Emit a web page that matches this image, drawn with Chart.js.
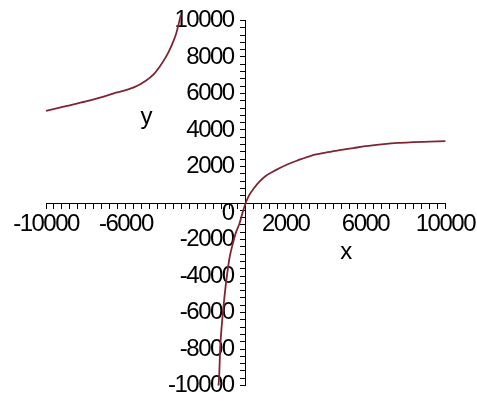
<!DOCTYPE html>
<html>
<head>
<meta charset="utf-8">
<script src="https://cdn.jsdelivr.net/npm/chart.js@4/dist/chart.umd.min.js"></script>
<style>
  html, body { margin: 0; padding: 0; background: #ffffff; }
  #wrap { width: 477px; height: 406px; }
</style>
</head>
<body>
<div id="wrap"><canvas id="c" width="477" height="406"></canvas></div>
<script>
// ---- data ----
const leftBranchX = [-10000, -9000, -8000, -7300, -6500, -5600, -5000, -4600, -4300, -4000, -3700, -3480, -3250];
const leftBranchY = [5040, 5300, 5560, 5770, 6040, 6330, 6700, 7060, 7480, 7990, 8650, 9280, 10300];

const rightBranchX = [-1360, -1320, -1280, -1220, -1150, -1050, -930, -800, -650, -500, -320, -150, 0, 150, 400, 700, 1000, 1500, 2000, 2600, 3300, 4000, 4700, 5400, 6000, 6800, 7600, 8400, 9200, 10000];
const rightBranchY = [-10000, -9300, -8000, -7000, -6100, -5000, -3900, -2950, -2250, -1650, -1150, -500, 0, 380, 790, 1180, 1480, 1800, 2070, 2330, 2600, 2760, 2890, 3010, 3110, 3210, 3290, 3330, 3360, 3390];

const xTickLabels = [-10000, -6000, 2000, 6000, 10000];
const yTickLabels = [-10000, -8000, -6000, -4000, -2000, 0, 2000, 4000, 6000, 8000, 10000];
const xTitle = 'x';
const yTitle = 'y';

// ---- chart ----
const FONT = "'Liberation Sans', Arial, sans-serif";
const curveColor = '#7e2634';

function toPoints(xs, ys) { return xs.map((x, i) => ({ x: x, y: ys[i] })); }

// narrow the (Maple-like condensed) lettering a little
const narrowText = {
  id: 'narrowText',
  beforeInit(chart) { chart.ctx.letterSpacing = '-1.5px'; },
  beforeUpdate(chart) { chart.ctx.letterSpacing = '-1.5px'; },
  beforeDraw(chart) { chart.ctx.letterSpacing = '-1.5px'; }
};

// y tick labels of a value-positioned axis sit against the axis line; move them clear of the ticks
const yLabelGap = {
  id: 'yLabelGap',
  afterLayout(chart) {
    const s = chart.scales.y;
    if (s && !s.__gapPatched) {
      const orig = s._computeLabelItems.bind(s);
      s._computeLabelItems = function (ca) {
        const items = orig(ca);
        items.forEach(it => { it.options.translation[0] -= 12; });
        return items;
      };
      s.__gapPatched = true;
      s._labelItems = null;
    }
  }
};

const axisTitles = {
  id: 'axisTitles',
  afterDraw(chart) {
    const { ctx, scales } = chart;
    ctx.save();
    ctx.fillStyle = '#000';
    ctx.font = '24px ' + FONT;
    ctx.textAlign = 'center';
    ctx.textBaseline = 'middle';
    ctx.fillText(yTitle, scales.x.getPixelForValue(-5000), scales.y.getPixelForValue(4700));
    ctx.fillText(xTitle, scales.x.getPixelForValue(5000), scales.y.getPixelForValue(-2700));
    ctx.restore();
  }
};

new Chart(document.getElementById('c'), {
  type: 'scatter',
  data: {
    datasets: [
      { data: toPoints(leftBranchX, leftBranchY) },
      { data: toPoints(rightBranchX, rightBranchY) }
    ]
  },
  options: {
    responsive: false,
    animation: false,
    devicePixelRatio: 1,
    layout: { padding: { left: 46, right: 30, top: 20, bottom: 16 } },
    elements: {
      point: { radius: 0, hoverRadius: 0 },
      line: { borderColor: curveColor, borderWidth: 1.8, fill: false }
    },
    datasets: {
      scatter: { showLine: true, cubicInterpolationMode: 'monotone', clip: false, borderColor: curveColor, borderWidth: 1.8 }
    },
    plugins: { legend: { display: false }, tooltip: { enabled: false } },
    scales: {
      x: {
        type: 'linear',
        position: { y: 0 },
        min: -10000, max: 10000,
        border: { display: true, color: '#000', width: 1 },
        grid: { drawOnChartArea: false, drawTicks: true, tickLength: 5, tickColor: '#000' },
        ticks: {
          stepSize: 400, autoSkip: false, maxRotation: 0, minRotation: 0,
          color: '#000', padding: 2,
          font: { family: FONT, size: 24 },
          callback: (v) => xTickLabels.includes(v) ? String(v) : ''
        }
      },
      y: {
        type: 'linear',
        position: { x: 0 },
        min: -10000, max: 10000,
        border: { display: true, color: '#000', width: 1 },
        grid: { drawOnChartArea: false, drawTicks: true, tickLength: 5, tickColor: '#000' },
        ticks: {
          stepSize: 400, autoSkip: false,
          color: '#000', padding: 6,
          font: (ctx) => (ctx.tick && ctx.tick.value === 0)
            ? { family: FONT, size: 24, lineHeight: '20px' }
            : { family: FONT, size: 24 },
          callback: (v) => v === 0 ? ['', '0'] : (yTickLabels.includes(v) ? String(v) : '')
        }
      }
    }
  },
  plugins: [narrowText, yLabelGap, axisTitles]
});
</script>
</body>
</html>
